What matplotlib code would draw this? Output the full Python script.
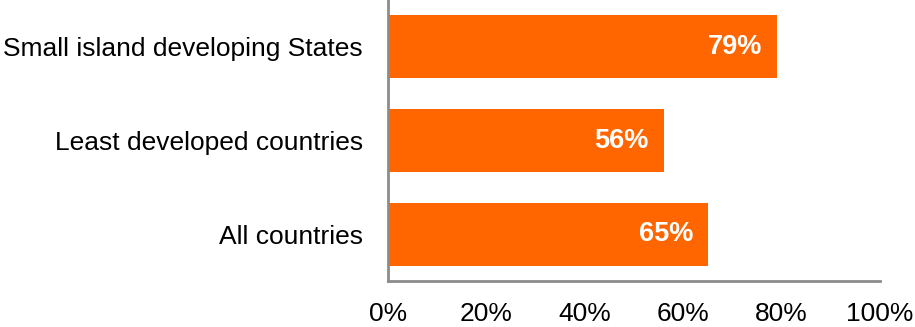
import matplotlib.pyplot as plt

# Data
categories = ["All countries", "Least developed countries", "Small island developing States"]
values = [65, 56, 79]
x_ticks = [0, 20, 40, 60, 80, 100]
x_tick_labels = ["0%", "20%", "40%", "60%", "80%", "100%"]

bar_color = "#FF6600"
axis_color = "#8C8C8C"

plt.rcParams['font.family'] = ['Liberation Sans', 'DejaVu Sans']

fig = plt.figure(figsize=(9.15, 3.27), dpi=100)
ax = fig.add_axes([388 / 915, 46 / 327, 492 / 915, 281 / 327])

y_pos = range(len(categories))
ax.barh(y_pos, values, height=0.67, color=bar_color)

# value labels inside the bar ends
for y, v in zip(y_pos, values):
    ax.text(v - 3, y, f"{v}%", ha="right", va="center",
            color="white", fontweight="bold", fontsize=19.5)

ax.set_xlim(0, 100)
ax.set_ylim(-0.5, 2.5)
ax.set_xticks(x_ticks)
ax.set_xticklabels(x_tick_labels, fontsize=19)
ax.set_yticks(list(y_pos))
ax.set_yticklabels(categories, fontsize=19)
ax.tick_params(axis="x", length=0, pad=15)
ax.tick_params(axis="y", length=0, pad=18)

for side in ["top", "right"]:
    ax.spines[side].set_visible(False)
for side in ["left", "bottom"]:
    ax.spines[side].set_color(axis_color)
    ax.spines[side].set_linewidth(2)

fig.savefig("out.png", dpi=100)
